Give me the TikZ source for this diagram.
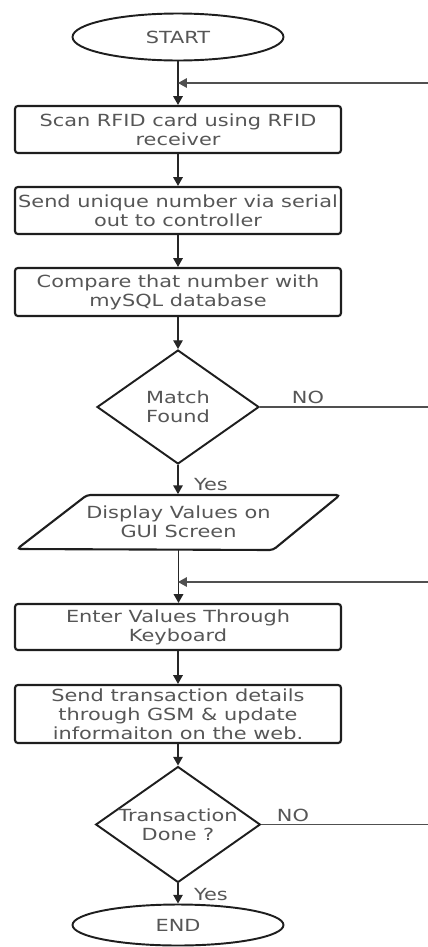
\documentclass[tikz,border=0pt]{standalone}
\usepackage{fontspec}
\setmainfont{DejaVu Sans}[FakeStretch=1.25]
\usetikzlibrary{shapes.geometric,arrows.meta}

\definecolor{txtgrey}{HTML}{565656}
\definecolor{edge}{HTML}{1E1E1E}
\definecolor{wire}{HTML}{262626}
\definecolor{backwire}{HTML}{505050}

\tikzset{
  lbl/.style={font=\fontsize{9.5}{10.8}\selectfont, text=txtgrey, align=center, inner sep=0pt},
  procbox/.style={lbl, draw=edge, line width=1.2pt, rounded corners=1.6pt,
    minimum width=6.52cm, minimum height=0.94cm},
  decision/.style={lbl, diamond, draw=edge, line width=1.1pt, shape aspect=1.42,
    minimum width=3.24cm, minimum height=2.28cm},
  terminal/.style={lbl, ellipse, draw=edge, line width=1.1pt, minimum width=4.22cm},
  ioshape/.style={draw=edge, line width=1.2pt, rounded corners=2pt},
  flow/.style={draw=wire, line width=0.8pt, -{Triangle[length=5pt,width=5.4pt]}},
  back/.style={draw=backwire, line width=0.65pt},
  backflow/.style={back, -{Triangle[length=5pt,width=5.4pt]}},
}

\begin{document}
\begin{tikzpicture}[x=0.02cm, y=-0.02cm]
  \useasboundingbox (0,0) rectangle (428,947);

  % terminals, process boxes and decisions down the main column
  \node[terminal, minimum height=0.94cm] (start) at (178,37) {START};
  \node[procbox] (scan) at (178,129.5) {Scan RFID card using RFID\\receiver};
  \node[procbox] (send) at (178,210.5) {Send unique number via serial\\out to controller};
  \node[procbox, minimum height=0.96cm] (cmp) at (178,292) {Compare that number with\\mySQL database};
  \node[decision] (match) at (178,407) {Match\\Found};
  \node[lbl, minimum width=3.5cm, minimum height=1.1cm] (disp) at (178.5,522) {Display Values on\\GUI Screen};
  \node[procbox, minimum height=0.92cm] (enter) at (178,627) {Enter Values Through\\Keyboard};
  \node[procbox, minimum height=1.16cm] (gsm) at (178,714) {Send transaction details\\through GSM \& update\\informaiton on the web.};
  \node[decision] (done) at (178,824.5) {Transaction\\Done ?};
  \node[terminal, minimum height=0.82cm] (endn) at (178,925) {END};

  % input/output parallelogram around the display step
  \draw[ioshape] ([shift={(-91.5,-27)}]disp.center) -- ([shift={(161.5,-27)}]disp.center)
    -- ([shift={(94.5,28)}]disp.center) -- ([shift={(-161.5,27)}]disp.center) -- cycle;

  % loop-back entry points and the right-hand edge of the loops
  \coordinate (rim) at (428,0);
  \coordinate (r1) at (428,83);
  \coordinate (r3) at (428,582);
  \coordinate (r2) at (match.east -| rim);
  \coordinate (r4) at (done.east -| rim);
  \coordinate (j1) at (start.south |- r1);
  \coordinate (j2) at (enter.north |- r3);

  % main flow
  \draw[flow] (start.south) -- (scan.north);
  \draw[flow] (scan.south) -- (send.north);
  \draw[flow] (send.south) -- (cmp.north);
  \draw[flow] (cmp.south) -- (match.north);
  \draw[flow] (match.south) -- (match.south |- disp.north);
  \draw[flow] (disp.south) -- (disp.south |- enter.north);
  \draw[flow] (enter.south) -- (gsm.north);
  \draw[flow] (gsm.south) -- (done.north);
  \draw[flow] (done.south) -- (endn.north);

  % branches and loop returns
  \draw[back] (match.east) -- (r2);
  \draw[back] (done.east) -- (r4);
  \draw[backflow] (r1) -- (j1);
  \draw[backflow] (r3) -- (j2);

  % branch labels
  \node[lbl] (no1) at (308,397) {NO};
  \node[lbl] (yes1) at (211,485) {Yes};
  \node[lbl] (no2) at (293,815) {NO};
  \node[lbl] (yes2) at (211,895) {Yes};
\end{tikzpicture}
\end{document}
